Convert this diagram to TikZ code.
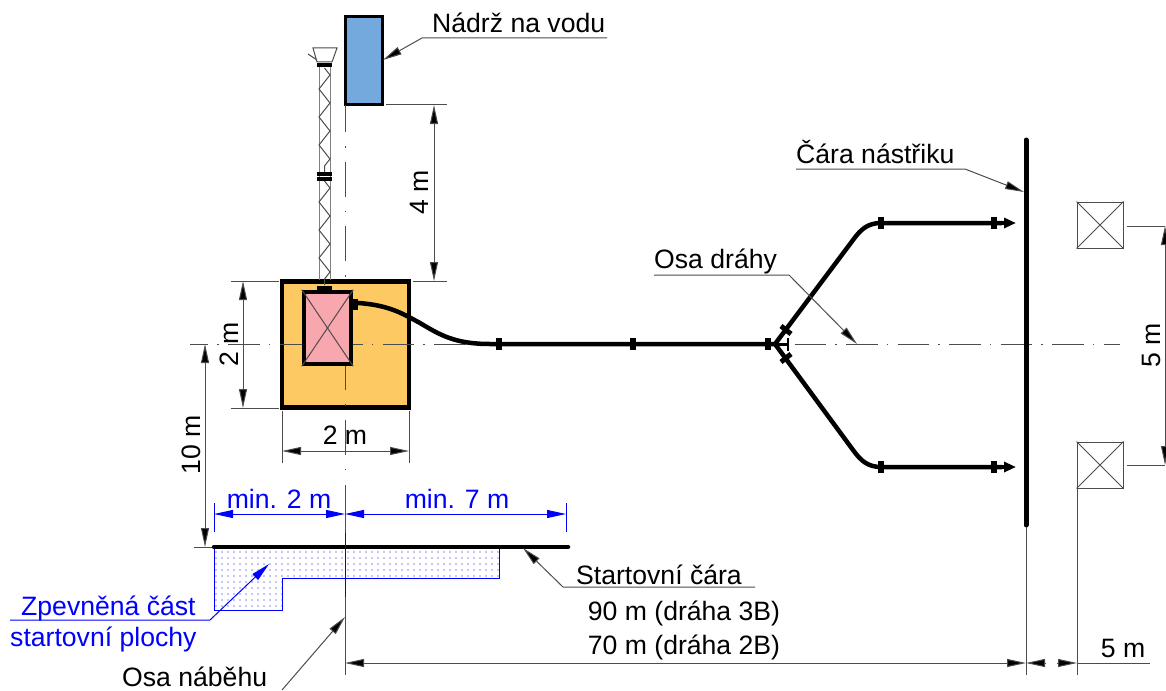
\documentclass[tikz,border=0pt]{standalone}
\usepackage{fontspec}
\setmainfont{Liberation Sans}
\usepackage{tikz}
\usetikzlibrary{arrows.meta,decorations.pathmorphing,patterns.meta}
\definecolor{dimgray}{gray}{0.3}
\definecolor{tankblue}{HTML}{74A9DD}
\definecolor{padorange}{HTML}{FDC963}
\definecolor{pumppink}{HTML}{F8A7AF}
\tikzset{
  lbl/.style={inner sep=0pt,font=\fontsize{26.6}{27}\selectfont},
  thinline/.style={draw=dimgray,line width=1pt},
  dim/.style={thinline,{Triangle[length=19pt,width=8pt,fill=black]}-{Triangle[length=19pt,width=8pt,fill=black]}},
  onetip/.style={thinline,-{Triangle[length=19pt,width=8pt,fill=black]}},
  axisv/.style={thinline,dash pattern=on 35pt off 14pt on 1.5pt off 14pt,dash phase=8pt},
  axish/.style={thinline,dash pattern=on 31.5pt off 9.25pt on 1.5pt off 9.25pt,dash phase=13.5pt},
  hose/.style={line width=4.5pt,draw=black},
  clamp/.style={line width=6pt,draw=black},
  crossbox/.style={draw=dimgray,line width=1pt,minimum width=46pt,minimum height=46pt,inner sep=0pt},
  bluedim/.style={draw=blue,line width=1pt,{Triangle[length=19pt,width=8pt,fill=blue]}-{Triangle[length=19pt,width=8pt,fill=blue]}},
}
\begin{document}
\begin{tikzpicture}[x=1pt,y=-1pt]
\useasboundingbox (0,0) rectangle (1166,690);
\node[draw=black,line width=3pt,fill=tankblue,minimum width=37pt,minimum height=88pt,inner sep=0pt] (tank) at (363.8,60.7) {};
\node[draw=black,line width=4.5pt,fill=padorange,minimum width=127pt,minimum height=126pt,inner sep=0pt] (pad) at (345.5,344.5) {};
\draw[axisv] (345,105) -- (345,470);
\draw[axish] (190,344) -- (1120,344);
\node[draw=black,line width=4.5pt,fill=pumppink,minimum width=47pt,minimum height=72pt,inner sep=0pt] (pump) at (327.5,328) {};
\draw[thinline] (pump.north west) -- (pump.south east);
\draw[thinline] (pump.north east) -- (pump.south west);
\draw[thinline,gray] (319,66) -- (319,280);
\draw[thinline,gray] (330,66) -- (330,280);
\draw[thinline,decorate,decoration={zigzag,segment length=28pt,amplitude=5.5pt}] (324.5,68) -- (324.5,172);
\draw[thinline,decorate,decoration={zigzag,segment length=28pt,amplitude=5.5pt}] (324.5,181) -- (324.5,285);
\draw[thinline] (313,48) -- (337,48) -- (332,62) -- (317,62) -- cycle;
\draw[thinline] (308,54) -- (317,60);
\draw[line width=4.5pt] (317,65) -- (332,65);
\draw[line width=3.5pt] (317,174) -- (332,174);
\draw[line width=3.5pt] (317,179) -- (332,179);
\draw[line width=4.5pt] (317,288) -- (332,288);
\draw[line width=6pt] (355,299) -- (355,310);
\draw[hose] (358,303) .. controls (390,305) and (405,315) .. (420,323) .. controls (440,335) and (455,344) .. (490,344) -- (775,344);
\draw[hose] (775,344) -- (853,240) .. controls (861,229) and (868,223) .. (881,223) -- (1002,223);
\draw[hose] (775,344) -- (853,450) .. controls (861,461) and (868,467) .. (881,467) -- (1002,467);
\draw[hose,-{Triangle[length=12pt,width=10pt]}] (1000,223) -- (1016,223);
\draw[hose,-{Triangle[length=12pt,width=10pt]}] (1000,467) -- (1016,467);
\foreach \x in {499,633,768}
  \draw[clamp] (\x,338) -- (\x,350);
\foreach \x in {881,994}{
  \draw[clamp] (\x,217) -- (\x,229);
  \draw[clamp] (\x,461) -- (\x,473);
}
\draw[line width=5pt] (781,326) -- (791,334);
\draw[line width=5pt] (781,362) -- (791,354);
\draw[line width=3pt] (775,344) -- (788,344);
\draw[line width=2.5pt] (788,338) -- (788,351);
\draw[line width=5pt,line cap=round] (1026,140) -- (1026,525);
\node[crossbox] (boxup) at (1100,225) {};
\node[crossbox] (boxdown) at (1100,465) {};
\draw[thinline] (boxup.north west) -- (boxup.south east);
\draw[thinline] (boxup.north east) -- (boxup.south west);
\draw[thinline] (boxdown.north west) -- (boxdown.south east);
\draw[thinline] (boxdown.north east) -- (boxdown.south west);
\coordinate (dimtop) at (434,105);
\coordinate (dimtopb) at (434,281);
\draw[thinline] (386,105) -- (447,105);
\draw[thinline] (413,281) -- (447,281);
\draw[dim] (dimtop) -- (dimtopb);
\node[lbl,rotate=90,anchor=base] (labfour) at (428,192) {4 m};
\draw[thinline] (231,281) -- (279,281);
\draw[thinline] (231,408) -- (279,408);
\coordinate (dimpada) at (243,281);
\coordinate (dimpadb) at (243,408);
\draw[dim] (dimpada) -- (dimpadb);
\node[lbl,rotate=90,anchor=base] (labtwov) at (238,344) {2 m};
\draw[thinline] (282,411) -- (282,463);
\draw[thinline] (409,411) -- (409,463);
\coordinate (dimpadc) at (282,451);
\coordinate (dimpadd) at (409,451);
\draw[dim] (dimpadc) -- (dimpadd);
\node[lbl,anchor=base] (labtwoh) at (345,444) {2 m};
\draw[thinline] (345,421) -- (345,455);
\coordinate (dimstarta) at (205,344);
\coordinate (dimstartb) at (205,547);
\draw[dim] (dimstarta) -- (dimstartb);
\draw[thinline] (194,547) -- (214,547);
\node[lbl,rotate=90,anchor=base] (labten) at (200,445) {10 m};
\draw[draw=blue,line width=1pt,pattern={Dots[distance=6pt,radius=0.6pt]},pattern color=blue] (214,547) -- (214,610) -- (282,610) -- (282,578) -- (499,578) -- (499,547) -- cycle;
\draw[line width=4.5pt,line cap=round] (214,547) -- (568,547);
\draw[thinline] (345,485) -- (345,533);
\draw[draw=blue,line width=1pt] (345,533) -- (345,597);
\draw[thinline] (345,597) -- (345,675);
\draw[draw=blue,line width=1pt] (214,503) -- (214,532);
\draw[draw=blue,line width=1pt] (566,503) -- (566,532);
\coordinate (minleft) at (214,514);
\coordinate (minmid) at (345,514);
\coordinate (minright) at (566,514);
\draw[bluedim] (minleft) -- (minmid);
\draw[bluedim] (minmid) -- (minright);
\node[lbl,text=blue,anchor=base] (labmintwo) at (279,508) {min. 2 m};
\node[lbl,text=blue,anchor=base] (labminseven) at (457,508) {min. 7 m};
\node[lbl,anchor=base west] (labtank) at (432,33) {Nádrž na vodu};
\coordinate (tanktip) at (383,60);
\draw[thinline,{Triangle[length=19pt,width=8pt,fill=black]}-] (tanktip) -- (422,38) -- (607,38);
\node[lbl,anchor=base west] (labspray) at (796,163) {Čára nástřiku};
\coordinate (spraytip) at (1024,192);
\draw[thinline,{Triangle[length=19pt,width=8pt,fill=black]}-] (spraytip) -- (965,169) -- (796,169);
\node[lbl,anchor=base west] (labtrack) at (654,268) {Osa dráhy};
\coordinate (tracktip) at (857,344);
\draw[thinline,{Triangle[length=19pt,width=8pt,fill=black]}-] (tracktip) -- (789,275) -- (654,275);
\node[lbl,anchor=base west] (labstart) at (576,584) {Startovní čára};
\coordinate (starttip) at (523,548);
\draw[thinline,{Triangle[length=19pt,width=8pt,fill=black]}-] (starttip) -- (563,587) -- (755,587);
\node[lbl,anchor=base] (labninety) at (684,620) {90 m (dráha 3B)};
\node[lbl,anchor=base] (labseventy) at (684,654) {70 m (dráha 2B)};
\node[lbl,text=blue,anchor=base west] (labpaved) at (21,615) {Zpevněná část};
\node[lbl,text=blue,anchor=base west] (labpavedb) at (10,646) {startovní plochy};
\coordinate (pavedtip) at (269,564);
\draw[draw=blue,line width=1pt,{Triangle[length=19pt,width=8pt,fill=blue]}-] (pavedtip) -- (210,620) -- (10,620);
\node[lbl,anchor=base west] (labrunup) at (122,686) {Osa náběhu};
\coordinate (runuptip) at (345,617);
\draw[thinline,{Triangle[length=19pt,width=8pt,fill=black]}-] (runuptip) -- (282,690);
\draw[thinline] (1026,527) -- (1026,675);
\draw[thinline] (1077,488) -- (1077,675);
\coordinate (longa) at (345,663);
\coordinate (longb) at (1026,663);
\draw[dim] (longa) -- (longb);
\coordinate (shorta) at (1046,663);
\coordinate (shortb) at (1057,663);
\draw[onetip] (shorta) -- (1026,663);
\draw[onetip] (shortb) -- (1077,663);
\draw[thinline] (1077,663) -- (1150,663);
\node[lbl,anchor=base] (labfive) at (1123,657) {5 m};
\draw[thinline] (1127,226) -- (1165,226);
\draw[thinline] (1127,465) -- (1165,465);
\coordinate (dimrighta) at (1165,226);
\coordinate (dimrightb) at (1165,465);
\draw[dim] (dimrighta) -- (dimrightb);
\node[lbl,rotate=90,anchor=base] (labfivev) at (1160,345) {5 m};
\end{tikzpicture}
\end{document}
